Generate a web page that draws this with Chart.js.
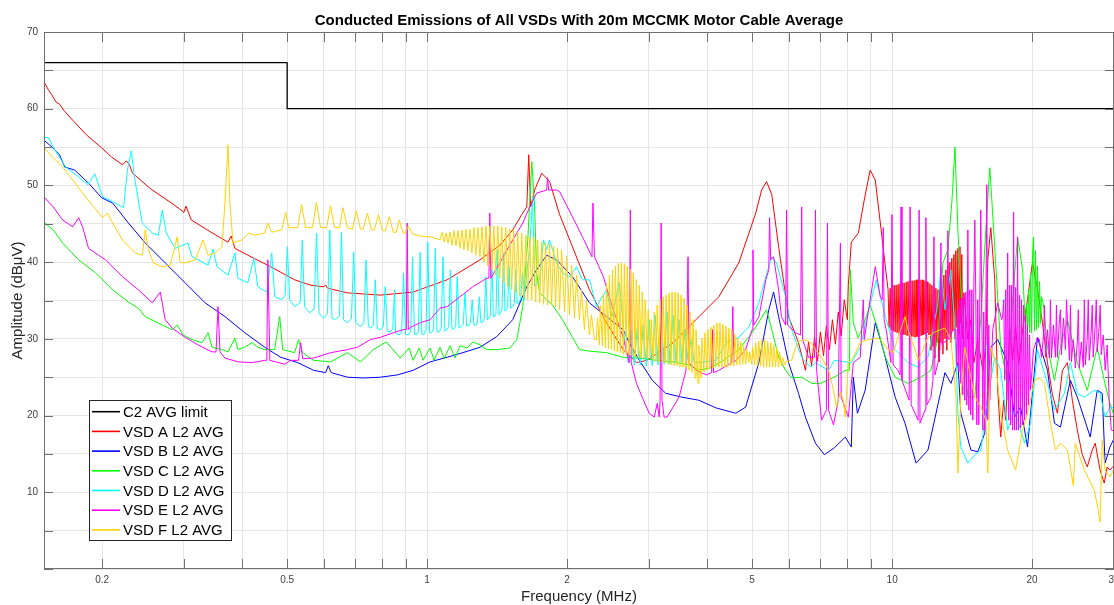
<!DOCTYPE html>
<html><head><meta charset="utf-8">
<script src="https://cdn.jsdelivr.net/npm/chart.js@4.4.1/dist/chart.umd.min.js"></script>
<style>html,body{margin:0;padding:0;background:#fff}#wrap{width:1114px;height:605px}</style>
</head><body><div id="wrap"><canvas id="c" width="1114" height="605"></canvas></div>
<script>
const chartTitle = "Conducted Emissions of All VSDs With 20m MCCMK Motor Cable Average";
const xAxisTitle = "Frequency (MHz)";
const yAxisTitle = "Amplitude (dBμV)";
const seriesNames = ["C2 AVG limit","VSD A L2 AVG","VSD B L2 AVG","VSD C L2 AVG","VSD D L2 AVG","VSD E L2 AVG","VSD F L2 AVG"];
const xGridValues = [0.2,0.3,0.4,0.5,0.6,0.7,0.8,0.9,1,2,3,4,5,6,7,8,9,10,20,30];
const xTickLabels = [[0.2,"0.2"],[0.5,"0.5"],[1,"1"],[2,"2"],[5,"5"],[10,"10"],[20,"20"],[30,"30"]];
const yGridValues = [0,5,10,15,20,25,30,35,40,45,50,55,60,65,70];
const yTickLabels = [10,20,30,40,50,60,70];

const limitC2 = [[0.15,66],[0.5,66],[0.5,60],[30,60]];

const vsdA = [[0.15,63.5],[0.1535,62.4],[0.156,61.8],[0.159,60.9],[0.162,60.6],[0.1654,59.8],[0.1729,58.5],[0.185,56.6],[0.1995,54.9],[0.2096,53.7],[0.2213,52.7],[0.2256,53.2],[0.229,52.7],[0.2325,51.6],[0.255,49.5],[0.282,47.7],[0.3,46.5],[0.303,47.3],[0.311,45.5],[0.343,43.9],[0.373,42.6],[0.379,43.4],[0.386,41.8],[0.418,40.7],[0.454,39.6],[0.484,38.7],[0.519,37.7],[0.5615,37.0],[0.598,36.8],[0.605,37.0],[0.611,36.6],[0.674,36.0],[0.793,35.7],[0.933,36.1],[1.104,37.7],[1.299,40.3],[1.433,42.2],[1.528,44.2],[1.598,46.2],[1.638,47.2],[1.654,54.0],[1.670,47.2],[1.703,49.4],[1.764,51.6],[1.834,50.5],[1.927,46.2],[2.054,42.0],[2.234,36.4],[2.43,32.1],[2.64,28.6],[2.82,26.9],[2.97,27.2],[3.155,28.3],[3.38,29.5],[3.785,32.5],[4.241,35.5],[4.68,39.9],[5.09,46.4],[5.24,49.4],[5.37,50.5],[5.51,48.8],[5.70,42.0],[5.99,32.9],[6.29,29.5],[6.51,25.9],[6.61,29.6],[6.71,26.5],[6.81,30.2],[6.91,27.1],[7.01,30.9],[7.12,27.8],[7.22,31.7],[7.33,28.6],[7.44,32.5],[7.55,29.3],[7.66,33.5],[7.77,30.4],[7.89,35.1],[8.01,32.5],[8.05,37.0],[8.17,42.6],[8.46,43.8],[8.71,48.1],[8.97,52.0],[9.20,50.7],[9.47,44.2],[9.80,36.4],[9.852,31.5],[9.901,36.6],[9.950,31.2],[9.999,36.8],[10.05,31.0],[10.10,37.0],[10.15,30.9],[10.20,37.0],[10.25,30.8],[10.30,37.1],[10.35,30.7],[10.40,37.2],[10.45,30.6],[10.51,37.3],[10.56,30.5],[10.61,37.3],[10.66,30.5],[10.72,37.4],[10.77,30.4],[10.82,37.5],[10.88,30.4],[10.93,37.5],[10.99,30.3],[11.04,37.6],[11.09,30.3],[11.15,37.6],[11.20,30.2],[11.26,37.7],[11.31,30.3],[11.37,37.7],[11.43,30.3],[11.48,37.7],[11.54,30.4],[11.60,37.7],[11.65,30.5],[11.71,37.6],[11.77,30.6],[11.83,37.5],[11.88,30.8],[11.94,37.4],[12.00,30.5],[12.06,37.2],[12.12,28.5],[12.18,37.0],[12.24,29.0],[12.30,36.8],[12.36,27.5],[12.42,36.6],[12.48,29.5],[12.55,36.4],[12.61,27.0],[12.67,36.8],[12.73,29.5],[12.80,37.5],[12.86,28.0],[12.92,38.3],[12.99,30.0],[13.05,39.0],[13.11,28.5],[13.18,39.5],[13.24,30.5],[13.31,40.0],[13.38,29.5],[13.44,40.5],[13.51,31.0],[13.58,41.0],[13.65,30.0],[13.71,41.5],[13.78,31.5],[13.85,41.8],[13.92,30.5],[13.99,42.0],[14.05,32.0],[14.12,41.0],[14.19,30.0],[14.26,36.0],[14.55,29.9],[14.77,32.5],[14.99,26.9],[15.28,29.9],[15.67,25.9],[15.90,29.2],[16.06,40.3],[16.30,44.5],[16.62,37.7],[16.87,23.3],[17.12,17.2],[17.38,22.0],[17.55,19.4],[17.90,31.2],[18.16,27.2],[18.43,31.8],[18.70,26.6],[19.08,31.2],[19.55,35.1],[20.04,40.0],[20.54,36.4],[21.05,32.1],[21.58,26.9],[22.12,22.7],[22.67,20.3],[23.24,25.9],[23.82,26.9],[24.41,22.0],[25.02,18.1],[25.64,14.9],[26.28,13.3],[26.94,15.5],[27.34,16.4],[28.0,12.9],[28.58,11.2],[29.0,13.3],[29.4,12.9],[30,13.5]];

const vsdB = [[0.15,55.9],[0.156,55.0],[0.162,54.0],[0.1662,52.4],[0.1746,52.0],[0.187,50.3],[0.1995,48.4],[0.2107,47.7],[0.2278,45.1],[0.2477,42.5],[0.2734,39.9],[0.3018,37.3],[0.333,34.7],[0.3675,32.9],[0.4055,30.8],[0.4476,28.9],[0.4843,27.6],[0.527,26.9],[0.570,25.9],[0.605,25.6],[0.613,26.5],[0.622,25.6],[0.674,25.0],[0.729,24.9],[0.793,25.0],[0.863,25.3],[0.933,25.9],[1.015,27.0],[1.104,27.6],[1.194,28.2],[1.299,28.9],[1.412,30.3],[1.528,32.5],[1.638,36.8],[1.72,39.0],[1.807,40.9],[1.898,40.3],[2.054,38.1],[2.234,34.7],[2.43,32.9],[2.64,31.2],[2.72,29.5],[2.86,27.2],[3.05,24.6],[3.26,22.9],[3.53,22.4],[3.84,22.0],[4.18,21.0],[4.61,20.3],[4.84,21.1],[5.17,26.9],[5.43,33.8],[5.56,36.1],[5.70,32.9],[5.99,26.9],[6.29,22.9],[6.51,19.8],[6.84,16.4],[7.15,14.9],[7.51,15.8],[7.93,17.2],[8.17,15.9],[8.25,25.0],[8.42,20.3],[8.75,23.3],[9.20,32.1],[9.57,28.6],[10.15,22.4],[10.66,19.0],[11.26,13.8],[11.94,15.5],[12.99,25.6],[13.38,24.2],[13.85,26.9],[14.05,20.3],[14.77,15.5],[15.28,15.3],[15.82,17.7],[16.30,28.9],[16.87,29.9],[17.72,26.9],[18.34,19.8],[18.89,21.1],[19.55,15.9],[20.54,30.2],[21.58,25.9],[22.34,19.0],[23.01,18.5],[24.17,24.6],[25.02,22.4],[26.67,17.2],[27.61,23.3],[28.3,22.9],[28.7,13.8],[29.4,15.9],[30,17.0]];

const vsdC = [[0.15,45.2],[0.157,44.2],[0.1645,42.5],[0.1781,40.3],[0.1936,38.6],[0.2107,36.4],[0.2278,34.8],[0.2393,34.0],[0.2477,32.9],[0.2694,31.8],[0.283,31.2],[0.2901,31.8],[0.2988,30.5],[0.3124,29.9],[0.3281,29.5],[0.338,30.8],[0.3447,28.9],[0.362,28.6],[0.373,28.3],[0.386,30.1],[0.392,28.6],[0.4055,28.9],[0.4199,29.5],[0.4325,28.9],[0.4476,28.6],[0.470,28.6],[0.482,32.9],[0.489,28.6],[0.519,28.2],[0.529,29.9],[0.540,28.2],[0.570,27.2],[0.620,27.0],[0.674,28.2],[0.719,27.0],[0.766,28.6],[0.817,29.6],[0.875,27.5],[0.915,28.8],[0.933,27.2],[0.962,28.8],[0.980,27.2],[1.015,28.8],[1.035,27.2],[1.066,28.9],[1.088,27.4],[1.12,29.1],[1.148,27.5],[1.177,29.1],[1.218,28.8],[1.254,29.6],[1.299,29.2],[1.344,28.6],[1.412,28.6],[1.506,28.8],[1.559,29.9],[1.606,34.2],[1.646,42.9],[1.679,53.1],[1.703,47.2],[1.72,38.6],[1.746,36.0],[1.807,35.1],[1.861,34.4],[1.955,32.5],[2.054,30.2],[2.126,28.6],[2.234,28.4],[2.43,28.2],[2.64,27.6],[2.86,27.5],[3.11,27.2],[3.38,27.0],[3.66,26.6],[3.84,25.9],[4.04,26.2],[4.26,26.9],[4.68,28.6],[5.0,30.8],[5.37,33.8],[5.51,31.2],[5.70,27.6],[5.90,25.9],[6.08,24.9],[6.39,25.0],[6.71,24.2],[7.01,24.2],[7.51,25.0],[7.93,25.9],[8.09,25.9],[8.13,39.0],[8.25,32.1],[8.46,30.1],[8.75,32.5],[8.97,34.4],[9.33,31.2],[9.67,27.6],[10.15,25.0],[10.82,24.2],[11.54,25.0],[12.12,25.9],[12.55,30.2],[12.86,39.9],[13.18,41.6],[13.45,48.1],[13.65,55.0],[13.85,44.2],[14.33,26.9],[14.55,22.4],[15.06,22.4],[15.52,32.9],[15.90,44.2],[16.22,52.3],[16.62,42.0],[17.12,28.9],[17.72,24.2],[18.16,35.1],[18.61,43.3],[19.08,39.0],[19.36,31.2],[19.46,34.5],[19.55,31.0],[19.65,36.5],[19.75,30.8],[19.84,38.5],[19.94,30.8],[20.04,41.0],[20.14,43.3],[20.24,31.0],[20.34,41.5],[20.44,31.2],[20.54,39.5],[20.64,31.5],[20.75,37.5],[20.85,32.0],[20.95,35.5],[21.16,34.4],[21.58,28.9],[22.34,24.6],[23.01,28.9],[23.82,32.5],[25.02,26.9],[26.28,23.3],[27.61,28.9],[28.58,24.6],[29.4,21.6],[30,20.0]];

const vsdD = [[0.15,56.3],[0.1535,56.2],[0.157,55.0],[0.167,52.4],[0.1781,51.1],[0.1861,50.1],[0.193,51.5],[0.2005,48.5],[0.2107,47.9],[0.2224,47.1],[0.2267,52.0],[0.2312,54.5],[0.2347,51.1],[0.244,45.1],[0.2565,43.8],[0.2643,43.5],[0.2694,46.8],[0.2748,43.8],[0.2873,41.8],[0.306,42.5],[0.3124,40.7],[0.3218,40.3],[0.338,39.6],[0.3464,41.7],[0.3533,39.4],[0.373,38.3],[0.3861,41.2],[0.3918,37.9],[0.4116,37.3],[0.4239,40.5],[0.4325,36.8],[0.4521,36.1],[0.4633,41.2],[0.4702,35.5],[0.4867,35.1],[0.4952,35.7],[0.5006,42.0],[0.5063,35.1],[0.5190,34.2],[0.5332,34.7],[0.5390,42.9],[0.5451,34.2],[0.5588,33.4],[0.5713,33.9],[0.5783,43.8],[0.5856,33.3],[0.5987,32.7],[0.6106,33.3],[0.6176,44.2],[0.6243,32.7],[0.6353,32.5],[0.6479,33.0],[0.6543,43.9],[0.6609,32.5],[0.6740,32.1],[0.6874,32.6],[0.6953,41.3],[0.7028,32.1],[0.7186,31.6],[0.7311,32.1],[0.7390,40.3],[0.7475,31.6],[0.7568,31.4],[0.7662,31.8],[0.7738,37.7],[0.7815,31.3],[0.7930,31.2],[0.8049,31.6],[0.8129,36.8],[0.8209,31.0],[0.8332,30.9],[0.8436,31.3],[0.8511,36.4],[0.8553,30.8],[0.8710,30.5],[0.8818,31.0],[0.8897,38.6],[0.8985,30.6],[0.9106,30.5],[0.9219,31.0],[0.9301,40.7],[0.9393,30.6],[0.9495,30.5],[0.9580,31.0],[0.9660,41.3],[0.9741,30.6],[0.9852,30.6],[0.9949,31.2],[1.0035,42.6],[1.0125,30.8],[1.0225,30.8],[1.0324,31.3],[1.0416,41.8],[1.0503,30.9],[1.0608,30.9],[1.0723,31.4],[1.0819,40.7],[1.0919,31.0],[1.1038,31.2],[1.1129,31.6],[1.1217,39.0],[1.1311,31.3],[1.1424,31.3],[1.1520,31.7],[1.1611,38.1],[1.1713,31.4],[1.1828,31.6],[1.1960,31.9],[1.206,36.0],[1.2161,31.7],[1.2269,31.7],[1.2391,32.1],[1.2501,35.1],[1.2608,31.8],[1.2732,31.8],[1.2834,32.2],[1.2945,35.5],[1.3054,32.1],[1.3167,32.2],[1.3264,32.6],[1.3375,38.1],[1.3482,32.5],[1.3573,32.7],[1.3674,33.1],[1.3775,40.7],[1.3877,32.9],[1.398,32.9],[1.4063,33.3],[1.4167,41.6],[1.4273,33.1],[1.4387,33.4],[1.4486,33.8],[1.4595,41.2],[1.4705,33.6],[1.4799,33.8],[1.4898,34.2],[1.5008,39.4],[1.5120,34.0],[1.5279,34.2],[1.5392,34.6],[1.5506,39.0],[1.5621,34.6],[1.5781,34.8],[1.5898,35.2],[1.6032,38.6],[1.6164,35.0],[1.6299,37.3],[1.662,42.0],[1.686,48.5],[1.703,36.8],[1.746,37.7],[1.78,42.9],[1.807,41.6],[1.834,42.9],[1.861,41.6],[1.898,39.9],[1.955,38.6],[2.024,38.1],[2.096,39.4],[2.158,37.7],[2.234,37.7],[2.313,34.2],[2.43,36.4],[2.50,32.9],[2.59,37.3],[2.655,30.2],[2.708,26.9],[2.748,31.2],[2.789,26.6],[2.830,31.4],[2.873,26.6],[2.915,31.8],[2.959,26.5],[3.003,32.5],[3.048,26.5],[3.093,33.1],[3.139,26.6],[3.186,33.5],[3.233,26.7],[3.281,33.5],[3.33,26.7],[3.38,33.1],[3.43,26.9],[3.482,32.5],[3.534,26.9],[3.586,31.2],[3.640,27.2],[3.694,29.9],[3.749,27.0],[3.842,26.9],[4.18,27.2],[4.39,29.5],[4.68,30.2],[4.92,31.6],[5.17,34.7],[5.35,38.1],[5.51,40.7],[5.64,39.9],[5.90,35.5],[6.08,31.2],[6.39,27.6],[6.68,26.3],[6.84,26.9],[7.30,25.9],[7.51,27.2],[7.93,27.0],[8.17,26.9],[8.54,28.9],[8.88,33.4],[9.24,37.7],[9.67,32.9],[10.15,28.6],[10.82,26.9],[11.37,26.3],[11.94,27.6],[12.55,34.7],[12.73,39.4],[12.99,33.8],[13.38,39.0],[13.65,31.2],[13.85,20.3],[14.05,15.9],[14.55,13.8],[15.06,14.9],[15.52,15.5],[16.06,22.4],[16.62,27.6],[17.12,25.9],[17.72,18.1],[18.34,20.7],[19.27,16.4],[19.84,19.0],[20.54,28.6],[21.58,24.2],[22.34,20.7],[23.47,22.9],[24.17,26.9],[25.02,22.9],[25.9,22.4],[27.2,23.3],[28.0,22.9],[28.7,19.8],[29.4,21.1],[30,21.0]];

const vsdE = [[0.15,48.5],[0.157,47.2],[0.1645,45.5],[0.1729,44.6],[0.1781,45.8],[0.1816,44.6],[0.187,41.8],[0.2034,40.3],[0.2213,38.1],[0.2393,36.4],[0.2565,34.7],[0.2668,36.1],[0.2734,32.5],[0.283,31.4],[0.3018,30.2],[0.3218,29.2],[0.3447,28.3],[0.3516,28.3],[0.3551,34.2],[0.3586,28.3],[0.3675,27.5],[0.392,27.0],[0.4199,26.9],[0.4476,27.2],[0.4521,27.2],[0.4544,40.3],[0.459,27.2],[0.494,26.7],[0.5088,27.2],[0.529,27.2],[0.5345,29.5],[0.540,27.4],[0.570,27.5],[0.620,28.2],[0.674,28.6],[0.708,28.9],[0.755,29.9],[0.793,30.2],[0.846,30.8],[0.888,31.2],[0.902,31.2],[0.906,45.1],[0.911,31.2],[0.920,31.5],[0.966,32.1],[1.015,32.5],[1.066,34.0],[1.104,34.2],[1.177,35.5],[1.254,36.8],[1.344,37.9],[1.358,37.9],[1.364,46.4],[1.371,37.9],[1.433,39.9],[1.528,42.9],[1.606,45.1],[1.662,47.2],[1.72,49.0],[1.807,49.4],[1.816,51.0],[1.825,49.4],[1.898,49.4],[1.927,49.2],[2.054,45.9],[2.158,43.3],[2.262,40.7],[2.273,47.7],[2.290,40.7],[2.394,38.1],[2.50,34.2],[2.64,30.2],[2.72,26.9],[2.735,46.8],[2.748,26.9],[2.82,24.2],[2.90,22.4],[3.003,20.3],[3.08,19.8],[3.125,21.6],[3.155,19.8],[3.17,22.0],[3.186,45.1],[3.20,22.0],[3.233,19.8],[3.281,19.8],[3.38,21.1],[3.482,22.4],[3.604,25.9],[3.64,40.7],[3.658,26.9],[3.785,25.9],[3.98,25.3],[4.09,25.6],[4.11,31.2],[4.13,25.6],[4.241,25.9],[4.52,26.9],[4.544,34.2],[4.566,26.9],[4.68,27.6],[4.84,28.6],[5.0,31.2],[5.02,41.6],[5.04,31.8],[5.17,32.9],[5.35,37.7],[5.43,39.0],[5.45,45.8],[5.48,40.3],[5.56,40.7],[5.70,36.4],[5.78,32.9],[5.90,31.8],[5.93,46.8],[5.96,31.8],[6.20,30.8],[6.35,30.5],[6.39,47.2],[6.42,29.9],[6.61,27.6],[6.81,27.6],[6.84,46.8],[6.88,25.9],[7.05,19.4],[7.22,20.7],[7.26,45.1],[7.30,20.7],[7.48,18.8],[7.66,22.0],[7.74,42.5],[7.77,22.4],[8.05,19.8],[8.25,26.9],[8.54,27.6],[8.67,35.1],[8.71,29.9],[8.88,33.4],[9.20,39.4],[9.43,35.5],[9.52,35.1],[9.57,44.5],[9.61,32.5],[9.71,31.2],[9.94,26.9],[9.99,46.2],[10.05,26.6],[10.30,25.9],[10.40,25.3],[10.45,47.2],[10.5,24.6],[10.82,22.4],[10.88,22.0],[10.93,47.2],[10.99,21.4],[11.20,20.3],[11.37,19.4],[11.43,46.8],[11.48,19.0],[11.77,20.7],[11.82,45.8],[11.88,21.4],[12.12,22.4],[12.24,24.6],[12.30,43.3],[12.36,25.3],[12.55,26.9],[12.67,28.6],[12.73,42.5],[12.80,29.2],[13.11,29.9],[13.18,44.1],[13.24,29.9],[13.51,31.2],[13.71,31.2],[13.78,26.6],[13.85,33.8],[13.92,25.7],[13.99,35.1],[14.05,24.2],[14.12,35.3],[14.19,22.7],[14.26,35.7],[14.33,22.0],[14.40,36.1],[14.47,21.4],[14.55,44.2],[14.62,20.7],[14.69,36.4],[14.76,20.1],[14.84,36.4],[14.91,19.4],[14.98,36.1],[15.06,45.5],[15.13,35.7],[15.21,18.8],[15.28,35.1],[15.36,18.8],[15.43,34.4],[15.51,46.8],[15.59,34.0],[15.67,18.1],[15.74,33.5],[15.82,18.1],[15.90,33.0],[15.98,50.1],[16.06,19.4],[16.14,31.8],[16.22,22.0],[16.46,31.2],[16.87,34.7],[17.20,32.5],[17.29,33.0],[17.38,35.1],[17.46,24.6],[17.55,36.4],[17.64,22.0],[17.72,41.2],[17.81,19.4],[17.90,37.0],[17.98,18.8],[18.07,37.0],[18.16,18.1],[18.25,46.5],[18.34,18.1],[18.43,36.7],[18.52,18.1],[18.61,43.3],[18.70,18.1],[18.80,35.7],[18.89,18.4],[18.98,35.1],[19.08,18.8],[19.17,34.4],[19.27,19.4],[19.36,33.1],[19.46,20.1],[19.55,31.8],[19.65,21.4],[19.75,30.5],[19.84,23.3],[20.14,28.6],[20.54,30.2],[20.74,29.9],[20.95,27.6],[21.16,30.5],[21.26,34.4],[21.37,27.6],[21.58,31.2],[21.79,27.5],[21.90,35.1],[22.01,27.5],[22.23,31.8],[22.45,27.6],[22.56,34.4],[22.67,27.6],[22.90,32.5],[23.01,33.8],[23.12,27.9],[23.36,32.7],[23.59,28.6],[23.71,35.1],[23.82,32.5],[24.06,27.2],[24.18,34.4],[24.30,27.0],[24.53,29.9],[24.78,26.2],[25.02,29.6],[25.14,33.8],[25.27,26.2],[25.52,29.6],[25.77,26.3],[25.90,35.1],[26.03,26.6],[26.28,30.1],[26.41,35.1],[26.54,27.2],[26.81,31.2],[26.94,34.4],[27.07,27.6],[27.34,31.8],[27.48,35.1],[27.61,28.3],[27.89,31.8],[28.02,34.4],[28.16,27.9],[28.44,30.5],[28.72,25.9],[29.0,29.2],[29.3,22.0],[29.6,18.1],[30,18.0]];

const vsdF = [[0.15,54.9],[0.157,53.6],[0.1645,52.4],[0.1729,50.7],[0.1843,48.5],[0.2005,45.8],[0.2055,46.4],[0.2107,45.1],[0.2213,42.9],[0.2358,41.2],[0.2441,40.9],[0.2477,44.2],[0.2515,41.6],[0.2578,39.9],[0.2694,39.4],[0.2803,39.6],[0.2901,43.3],[0.2944,40.0],[0.3018,39.9],[0.317,40.3],[0.3297,42.9],[0.338,40.9],[0.3499,41.2],[0.362,42.0],[0.3675,47.7],[0.373,55.3],[0.3767,47.7],[0.3823,42.5],[0.3997,42.9],[0.4137,43.8],[0.4261,43.5],[0.4476,43.8],[0.4544,45.1],[0.4633,43.9],[0.4867,44.2],[0.4964,46.5],[0.504,44.5],[0.527,44.5],[0.537,47.5],[0.548,44.5],[0.567,44.5],[0.578,47.8],[0.590,44.5],[0.608,44.5],[0.620,47.3],[0.632,44.5],[0.648,44.5],[0.659,47.1],[0.674,44.5],[0.691,44.3],[0.704,46.7],[0.719,44.3],[0.729,44.3],[0.744,46.4],[0.759,44.2],[0.770,44.2],[0.786,46.2],[0.801,44.1],[0.813,44.1],[0.829,45.9],[0.846,43.9],[0.858,43.9],[0.871,45.5],[0.888,43.8],[0.897,43.8],[0.911,44.7],[0.929,43.7],[0.966,43.4],[1.015,43.3],[1.066,42.9],[1.077,43.9],[1.088,42.6],[1.099,43.8],[1.109,42.5],[1.120,43.9],[1.131,42.2],[1.142,44.1],[1.154,42.1],[1.165,44.1],[1.177,41.8],[1.189,44.2],[1.200,41.6],[1.212,44.3],[1.224,41.5],[1.236,44.3],[1.248,41.2],[1.261,44.5],[1.273,40.9],[1.286,44.5],[1.299,40.7],[1.312,44.6],[1.325,40.0],[1.338,44.7],[1.351,39.5],[1.364,44.7],[1.378,39.0],[1.391,44.7],[1.405,38.3],[1.419,44.7],[1.433,37.9],[1.447,44.6],[1.462,37.3],[1.476,44.5],[1.491,36.8],[1.506,44.3],[1.520,36.4],[1.535,44.2],[1.551,36.0],[1.566,43.9],[1.582,35.6],[1.598,43.8],[1.614,35.3],[1.630,43.5],[1.646,35.1],[1.662,43.3],[1.679,35.1],[1.695,43.2],[1.712,34.8],[1.729,42.9],[1.746,34.7],[1.763,42.6],[1.780,34.5],[1.798,42.5],[1.816,34.4],[1.834,42.4],[1.852,34.4],[1.871,42.1],[1.889,34.2],[1.908,41.8],[1.927,33.8],[1.946,41.6],[1.975,33.5],[1.995,40.8],[2.024,33.1],[2.044,39.6],[2.075,32.7],[2.096,38.3],[2.126,32.5],[2.147,36.4],[2.179,31.2],[2.201,35.1],[2.234,30.5],[2.256,33.1],[2.290,29.9],[2.313,29.9],[2.324,32.7],[2.346,29.2],[2.358,34.4],[2.382,29.1],[2.394,35.7],[2.418,28.8],[2.430,37.3],[2.454,28.7],[2.466,38.3],[2.491,28.6],[2.503,39.0],[2.527,28.4],[2.540,39.5],[2.565,28.3],[2.577,39.8],[2.603,28.2],[2.616,39.9],[2.642,28.0],[2.655,39.8],[2.681,27.9],[2.694,39.5],[2.721,27.9],[2.734,39.1],[2.762,27.8],[2.775,38.6],[2.803,27.6],[2.817,37.7],[2.844,27.6],[2.858,37.0],[2.887,27.5],[2.901,36.1],[2.930,27.5],[2.944,35.1],[2.974,27.5],[2.988,33.8],[3.018,27.6],[3.033,32.5],[3.063,27.2],[3.078,33.5],[3.109,27.1],[3.124,34.4],[3.155,27.0],[3.171,35.1],[3.202,27.0],[3.217,35.5],[3.249,26.9],[3.265,35.7],[3.298,26.7],[3.314,36.0],[3.347,26.6],[3.363,36.1],[3.396,26.5],[3.413,36.1],[3.447,26.5],[3.464,36.0],[3.499,26.3],[3.516,35.7],[3.551,26.3],[3.568,35.3],[3.604,26.2],[3.622,34.4],[3.658,25.9],[3.676,33.5],[3.712,25.6],[3.731,32.5],[3.768,24.9],[3.786,31.2],[3.824,24.2],[3.842,29.2],[3.880,24.9],[3.900,30.1],[3.938,25.7],[3.958,30.8],[3.997,25.9],[4.016,31.2],[4.056,26.1],[4.076,31.5],[4.117,26.2],[4.137,31.8],[4.178,26.3],[4.199,32.1],[4.241,26.3],[4.262,32.1],[4.304,26.3],[4.325,31.9],[4.368,26.3],[4.389,31.7],[4.433,26.3],[4.455,31.4],[4.499,26.5],[4.521,31.2],[4.566,26.5],[4.589,30.6],[4.634,26.6],[4.657,30.1],[4.703,26.6],[4.726,29.6],[4.773,26.7],[4.797,29.1],[4.844,26.7],[4.868,28.6],[4.916,26.9],[4.940,28.3],[4.989,26.7],[5.014,28.9],[5.064,26.6],[5.089,29.5],[5.140,26.5],[5.166,29.7],[5.217,26.5],[5.243,29.9],[5.295,26.3],[5.321,29.9],[5.374,26.3],[5.400,29.7],[5.454,26.3],[5.481,29.5],[5.535,26.3],[5.562,29.2],[5.617,26.3],[5.645,28.8],[5.700,26.3],[5.728,28.3],[5.785,26.5],[5.814,27.6],[5.872,26.6],[5.901,27.0],[6.08,27.2],[6.20,28.9],[6.29,29.6],[6.45,29.9],[6.61,29.7],[6.74,29.2],[6.84,28.6],[7.05,27.6],[7.30,25.9],[7.48,23.3],[7.59,21.1],[7.74,23.1],[7.85,22.0],[7.93,19.8],[8.05,26.9],[8.25,27.6],[8.54,29.5],[8.88,29.9],[9.33,30.1],[9.57,29.5],[9.80,28.6],[10.05,28.2],[10.30,30.2],[10.66,32.9],[10.82,31.2],[11.20,28.6],[11.37,27.2],[11.65,28.6],[11.94,30.2],[12.36,30.9],[12.73,31.2],[12.99,31.4],[13.38,29.9],[13.72,22.4],[13.85,12.5],[14.05,22.4],[14.33,28.9],[14.55,26.9],[15.06,22.4],[15.52,21.1],[15.90,19.4],[16.06,12.5],[16.30,28.9],[16.70,26.9],[17.12,20.3],[17.72,15.5],[18.43,12.9],[19.08,18.1],[19.55,20.3],[20.24,24.6],[20.75,24.9],[21.26,24.2],[21.90,19.0],[22.45,15.5],[23.01,16.4],[23.82,15.5],[24.53,10.9],[24.77,16.4],[25.9,12.9],[27.2,10.3],[27.75,7.7],[28.0,6.1],[28.3,16.8],[28.7,12.9],[29.4,12.0],[30,13.0]];

const seriesData = [limitC2, vsdA, vsdB, vsdC, vsdD, vsdE, vsdF];
const seriesColors = ['#000000','#ff0000','#0000ff','#00ff00','#00ffff','#ff00ff','#ffd200'];
const FONT = '"Liberation Sans", Arial, Helvetica, sans-serif';

const datasets = seriesData.map((d, i) => ({
  label: seriesNames[i],
  data: d.map(p => ({x: p[0], y: p[1]})),
  borderColor: seriesColors[i],
  borderWidth: i === 0 ? 1.3 : 1,
  borderJoinStyle: 'round',
  pointRadius: 0,
  fill: false,
  tension: 0,
  order: seriesData.length - 1 - i
}));

const deco = {
  id: 'deco',
  afterDatasetsDraw(chart) {
    const {ctx, chartArea: a, scales: {x, y}} = chart;
    ctx.save();
    ctx.strokeStyle = '#707070';
    ctx.lineWidth = 1;
    ctx.beginPath();
    xGridValues.forEach(v => {
      const px = Math.round(x.getPixelForValue(v)) + 0.5;
      ctx.moveTo(px, a.bottom); ctx.lineTo(px, a.bottom - 10);
      ctx.moveTo(px, a.top); ctx.lineTo(px, a.top + 10);
    });
    yGridValues.forEach(v => {
      const py = Math.round(y.getPixelForValue(v)) + 0.5;
      ctx.moveTo(a.left, py); ctx.lineTo(a.left + 9, py);
      ctx.moveTo(a.right, py); ctx.lineTo(a.right - 9, py);
    });
    ctx.stroke();
    ctx.strokeRect(a.left + 0.5, a.top + 0.5, a.right - a.left - 1, a.bottom - a.top - 1);

    ctx.fillStyle = '#404040';
    ctx.font = '10px ' + FONT;
    ctx.textAlign = 'right'; ctx.textBaseline = 'middle';
    yTickLabels.forEach(v => ctx.fillText(String(v), a.left - 6, y.getPixelForValue(v)));
    ctx.textAlign = 'center';
    xTickLabels.forEach(t => ctx.fillText(t[1], x.getPixelForValue(t[0]), a.bottom + 11));

    const cx = (a.left + a.right) / 2;
    ctx.fillStyle = '#000';
    ctx.font = 'bold 15px ' + FONT;
    ctx.fillText(chartTitle, cx, 21);
    ctx.fillStyle = '#262626';
    ctx.font = '15px ' + FONT;
    ctx.fillText(xAxisTitle, cx, 597);
    ctx.save();
    ctx.translate(18, (a.top + a.bottom) / 2);
    ctx.rotate(-Math.PI / 2);
    ctx.fillText(yAxisTitle, 0, 0);
    ctx.restore();

    const lx = 89, ly = 400, lw = 142, lh = 140;
    ctx.fillStyle = '#fff';
    ctx.fillRect(lx, ly, lw, lh);
    ctx.strokeStyle = '#262626';
    ctx.lineWidth = 1;
    ctx.strokeRect(lx + 0.5, ly + 0.5, lw, lh);
    ctx.textAlign = 'left'; ctx.textBaseline = 'middle';
    ctx.font = '15px ' + FONT;
    seriesNames.forEach((n, i) => {
      const yy = 411.7 + i * 19.7;
      ctx.beginPath();
      ctx.strokeStyle = seriesColors[i];
      ctx.lineWidth = 1.6;
      ctx.moveTo(92, yy); ctx.lineTo(120, yy);
      ctx.stroke();
      ctx.fillStyle = '#000';
      ctx.fillText(n, 123, yy + 1);
    });
    ctx.restore();
  }
};

new Chart(document.getElementById('c'), {
  type: 'line',
  data: {datasets},
  options: {
    responsive: false,
    animation: false,
    events: [],
    layout: {padding: {top: 32, left: 0, right: 0, bottom: 0}},
    plugins: {legend: {display: false}, title: {display: false}, tooltip: {enabled: false}},
    scales: {
      x: {
        type: 'logarithmic', min: 0.15, max: 30,
        afterBuildTicks: s => { s.ticks = xGridValues.map(v => ({value: v})); },
        afterFit: s => { s.height = 36; },
        ticks: {display: false},
        grid: {color: '#e6e6e6', drawTicks: false, lineWidth: 1},
        border: {display: false}
      },
      y: {
        type: 'linear', min: 0, max: 70,
        afterBuildTicks: s => { s.ticks = yGridValues.map(v => ({value: v})); },
        afterFit: s => { s.width = 44; },
        ticks: {display: false},
        grid: {color: '#e6e6e6', drawTicks: false, lineWidth: 1},
        border: {display: false}
      }
    }
  },
  plugins: [deco]
});
</script>
</body></html>
